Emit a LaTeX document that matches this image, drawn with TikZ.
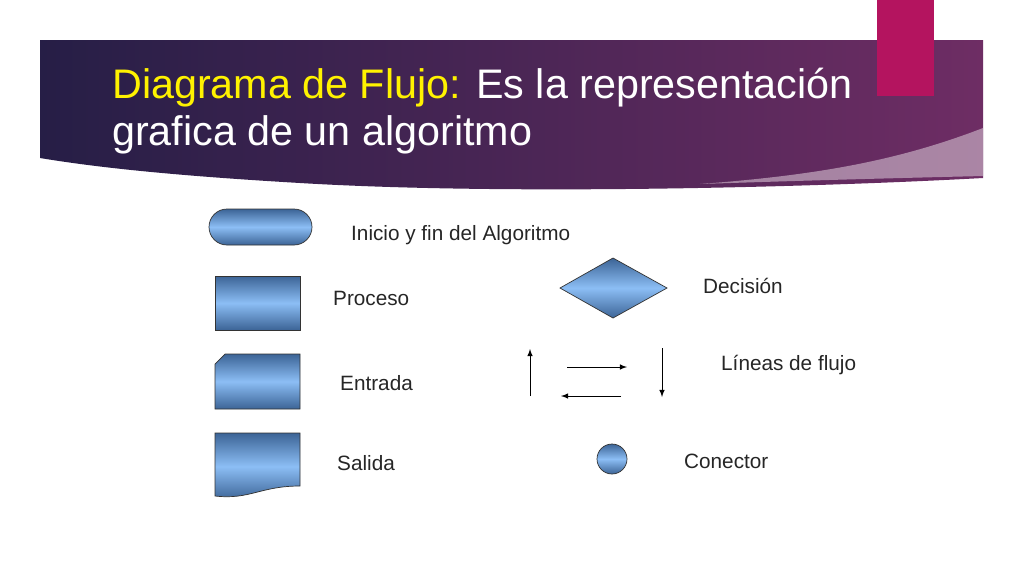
\documentclass[tikz,border=0pt]{standalone}
\usepackage{fontspec}
\setmainfont{Liberation Sans}
\usetikzlibrary{shapes.geometric,positioning,arrows}
\definecolor{bandA}{RGB}{38,30,70}
\definecolor{bandB}{RGB}{110,45,100}
\definecolor{pinkbox}{RGB}{180,20,95}
\definecolor{shapeDark}{RGB}{60,100,150}
\definecolor{shapeLight}{RGB}{140,190,245}
\tikzset{
  symb/.style={draw=black!80, thin, top color=shapeDark, bottom color=shapeDark, middle color=shapeLight},
  lbl/.style={anchor=west, font=\fontsize{11.8}{14}\selectfont, text=black!85},
}
\begin{document}
\begin{tikzpicture}[x=0.02cm, y=-0.02cm, >=latex]
\useasboundingbox (0,0) rectangle (1024,576);
\fill[white] (0,0) rectangle (1024,576);
% banner
\shade[left color=bandA, right color=bandB, shading angle=90]
  (40,40) -- (983,40) -- (983,178) .. controls (800,188) and (500,195) .. (300,183)
  .. controls (180,176) and (100,168) .. (40,158) -- cycle;
\fill[white!60!bandB, opacity=0.7] (983,128) .. controls (900,160) and (820,175) .. (700,184)
  .. controls (820,180) and (900,178) .. (983,176) -- cycle;
\fill[pinkbox] (877,0) rectangle (934,96);
\node[anchor=west, align=left, font=\fontsize{23.5}{27}\selectfont, text=white] (title) at (106,111)
  {\textcolor{yellow}{Diagrama de Flujo:} Es la representación\\grafica de un algoritmo};
% symbols
\shade[symb, rounded corners=0.36cm] (209,209) rectangle (312,245);
\coordinate (ini) at (260,227);
\shade[symb] (215,276) rectangle (300,330);
\coordinate (proc) at (257,303);
\shade[symb] (225,354) -- (300,354) -- (300,409) -- (215,409) -- (215,364) -- cycle;
\coordinate (ent) at (257,381);
\shade[symb] (215,433) -- (300,433) -- (300,486) .. controls (260,486) and (250,500) .. (215,496) -- cycle;
\coordinate (sal) at (257,460);
\shade[symb] (560,288) -- (613,258) -- (667,288) -- (613,318) -- cycle;
\coordinate (dec) at (613,288);
\shade[symb] (612,459) circle (15);
\coordinate (con) at (612,459);
% flow lines
\coordinate (up0) at (530,396); \coordinate (up1) at (530,349);
\coordinate (r0) at (567,367); \coordinate (r1) at (627,367);
\coordinate (l0) at (621,396); \coordinate (l1) at (561,396);
\coordinate (d0) at (662,348); \coordinate (d1) at (662,397);
\draw[->] (up0) -- (up1);
\draw[->] (r0) -- (r1);
\draw[->] (l0) -- (l1);
\draw[->] (d0) -- (d1);
% labels
\node[lbl] (tIni) at (345,235) {Inicio y fin del Algoritmo};
\node[lbl] (tProc) at (327,298) {Proceso};
\node[lbl] (tEnt) at (334,383) {Entrada};
\node[lbl] (tSal) at (331,463) {Salida};
\node[lbl] (tDec) at (697,286) {Decisión};
\node[lbl] (tLin) at (715,365) {Líneas de flujo};
\node[lbl] (tCon) at (678,461) {Conector};
\end{tikzpicture}
\end{document}
